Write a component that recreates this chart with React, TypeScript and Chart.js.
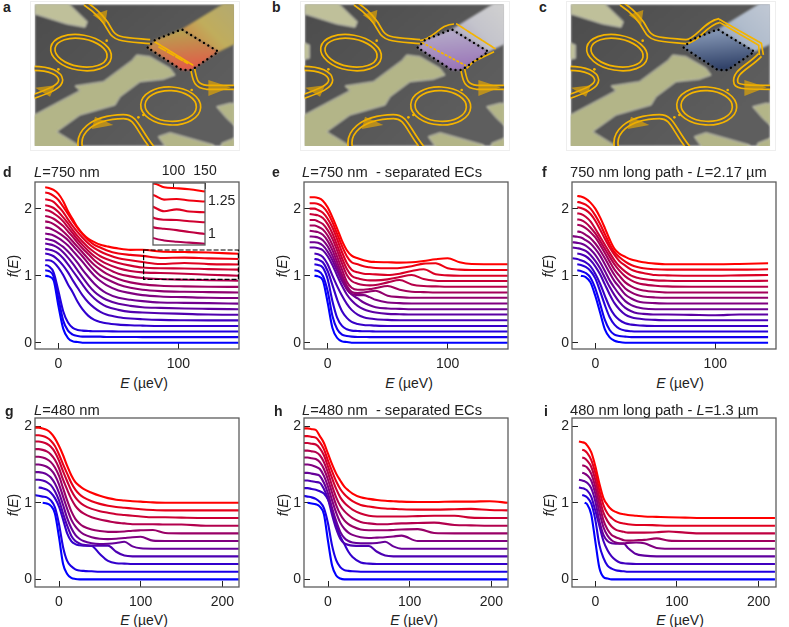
import { useEffect, useRef } from "react"
import { Chart, registerables } from "chart.js"

Chart.register(...registerables)

const FONT = "'Liberation Sans', Arial, sans-serif"

// panel d: L=750 nm
const dEnergy = [-11, -8, -4, 0, 4, 8, 12, 16, 20, 25, 30, 35, 40, 50, 60, 70, 85, 105, 125, 150]
const dCurves = [
  [1, 0.99, 0.93, 0.55, 0.21, 0.07, 0.02, 0.01, 0, 0, 0, 0, 0, 0, 0, 0, 0, 0, 0, 0],
  [1.08, 1.07, 0.99, 0.66, 0.33, 0.18, 0.12, 0.1, 0.09, 0.09, 0.09, 0.09, 0.085, 0.085, 0.085, 0.083, 0.083, 0.083, 0.083, 0.083],
  [1.16, 1.14, 1.05, 0.77, 0.47, 0.3, 0.22, 0.19, 0.18, 0.175, 0.17, 0.17, 0.17, 0.167, 0.167, 0.167, 0.167, 0.167, 0.167, 0.167],
  [1.23, 1.23, 1.2, 1.12, 1.01, 0.87, 0.75, 0.61, 0.5, 0.4, 0.34, 0.31, 0.29, 0.27, 0.26, 0.255, 0.25, 0.25, 0.25, 0.25],
  [1.33, 1.32, 1.29, 1.23, 1.15, 1.05, 0.93, 0.82, 0.71, 0.6, 0.52, 0.46, 0.42, 0.38, 0.36, 0.35, 0.34, 0.335, 0.333, 0.333],
  [1.4, 1.39, 1.37, 1.33, 1.26, 1.17, 1.07, 0.97, 0.87, 0.75, 0.66, 0.59, 0.54, 0.49, 0.46, 0.45, 0.44, 0.43, 0.42, 0.417],
  [1.48, 1.47, 1.45, 1.41, 1.35, 1.27, 1.18, 1.08, 0.98, 0.86, 0.76, 0.69, 0.64, 0.58, 0.55, 0.53, 0.52, 0.51, 0.505, 0.5],
  [1.55, 1.54, 1.52, 1.48, 1.43, 1.36, 1.28, 1.19, 1.09, 0.98, 0.88, 0.8, 0.74, 0.67, 0.64, 0.62, 0.6, 0.595, 0.59, 0.583],
  [1.63, 1.62, 1.6, 1.56, 1.51, 1.45, 1.37, 1.29, 1.21, 1.1, 1, 0.92, 0.86, 0.78, 0.74, 0.71, 0.69, 0.68, 0.67, 0.667],
  [1.72, 1.71, 1.68, 1.64, 1.59, 1.53, 1.45, 1.37, 1.29, 1.18, 1.08, 1, 0.95, 0.87, 0.82, 0.79, 0.77, 0.76, 0.755, 0.75],
  [1.81, 1.8, 1.77, 1.72, 1.66, 1.59, 1.51, 1.43, 1.35, 1.25, 1.16, 1.09, 1.03, 0.95, 0.9, 0.87, 0.85, 0.84, 0.835, 0.833],
  [1.89, 1.88, 1.85, 1.8, 1.74, 1.66, 1.58, 1.49, 1.41, 1.32, 1.23, 1.16, 1.11, 1.03, 0.99, 0.966, 0.95, 0.94, 0.933, 0.925],
  [1.98, 1.97, 1.93, 1.88, 1.81, 1.72, 1.63, 1.54, 1.46, 1.37, 1.29, 1.23, 1.18, 1.11, 1.07, 1.049, 1.04, 1.03, 1.015, 1],
  [2.05, 2.04, 2.01, 1.95, 1.87, 1.78, 1.68, 1.59, 1.51, 1.42, 1.35, 1.29, 1.25, 1.19, 1.15, 1.121, 1.11, 1.108, 1.098, 1.09],
  [2.14, 2.13, 2.1, 2.03, 1.95, 1.84, 1.74, 1.65, 1.57, 1.48, 1.41, 1.36, 1.32, 1.26, 1.23, 1.204, 1.175, 1.19, 1.173, 1.167],
  [2.24, 2.23, 2.19, 2.13, 2.03, 1.92, 1.81, 1.71, 1.62, 1.53, 1.46, 1.42, 1.38, 1.33, 1.31, 1.296, 1.265, 1.27, 1.258, 1.25],
  [2.32, 2.31, 2.28, 2.22, 2.11, 1.96, 1.84, 1.72, 1.63, 1.55, 1.5, 1.46, 1.44, 1.405, 1.385, 1.387, 1.36, 1.353, 1.345, 1.327],
]

// panel e: L=750 nm, separated ECs
const eEnergy = [-15, -11, -8, -4, 0, 4, 8, 12, 16, 20, 25, 30, 35, 40, 50, 60, 70, 80, 90, 100, 110, 120, 150]
const eCurves = [
  [null, 1, 0.99, 0.93, 0.6, 0.22, 0.07, 0.02, 0.01, 0, 0, 0, 0, 0, 0, 0, 0, 0, 0, 0, 0, 0, 0],
  [null, 1.08, 1.07, 1, 0.77, 0.4, 0.2, 0.12, 0.1, 0.09, 0.085, 0.085, 0.083, 0.083, 0.083, 0.083, 0.083, 0.083, 0.083, 0.083, 0.083, 0.083, 0.083],
  [null, 1.17, 1.16, 1.12, 0.95, 0.62, 0.37, 0.25, 0.2, 0.18, 0.175, 0.17, 0.17, 0.167, 0.167, 0.167, 0.167, 0.167, 0.167, 0.167, 0.167, 0.167, 0.167],
  [null, 1.25, 1.24, 1.2, 1.07, 0.86, 0.64, 0.47, 0.37, 0.31, 0.28, 0.265, 0.26, 0.255, 0.25, 0.25, 0.25, 0.25, 0.25, 0.25, 0.25, 0.25, 0.25],
  [null, 1.33, 1.32, 1.28, 1.17, 1, 0.84, 0.7, 0.58, 0.49, 0.42, 0.38, 0.36, 0.35, 0.34, 0.335, 0.335, 0.335, 0.335, 0.335, 0.335, 0.335, 0.335],
  [1.42, 1.42, 1.41, 1.38, 1.29, 1.16, 1, 0.85, 0.72, 0.63, 0.55, 0.5, 0.47, 0.45, 0.43, 0.425, 0.42, 0.42, 0.42, 0.42, 0.42, 0.42, 0.42],
  [1.5, 1.5, 1.49, 1.45, 1.36, 1.23, 1.07, 0.92, 0.8, 0.72, 0.66, 0.6, 0.56, 0.53, 0.51, 0.505, 0.5, 0.5, 0.5, 0.5, 0.5, 0.5, 0.5],
  [1.585, 1.58, 1.57, 1.53, 1.44, 1.3, 1.13, 0.96, 0.8, 0.73, 0.71, 0.71, 0.68, 0.64, 0.6, 0.59, 0.585, 0.585, 0.585, 0.585, 0.585, 0.585, 0.585],
  [1.67, 1.66, 1.65, 1.61, 1.52, 1.38, 1.2, 1.01, 0.85, 0.76, 0.74, 0.75, 0.765, 0.775, 0.7, 0.68, 0.67, 0.67, 0.67, 0.67, 0.67, 0.67, 0.67],
  [1.75, 1.75, 1.73, 1.69, 1.6, 1.46, 1.28, 1.09, 0.91, 0.82, 0.79, 0.79, 0.8, 0.815, 0.845, 0.79, 0.76, 0.755, 0.75, 0.75, 0.75, 0.75, 0.75],
  [1.83, 1.83, 1.81, 1.77, 1.68, 1.55, 1.37, 1.18, 1.01, 0.92, 0.88, 0.86, 0.855, 0.86, 0.9, 0.935, 0.87, 0.845, 0.84, 0.835, 0.835, 0.835, 0.835],
  [1.92, 1.91, 1.9, 1.86, 1.77, 1.63, 1.45, 1.26, 1.1, 1, 0.96, 0.94, 0.93, 0.93, 0.945, 0.98, 1.01, 0.95, 0.925, 0.92, 0.92, 0.92, 0.92],
  [2, 2, 1.98, 1.94, 1.85, 1.72, 1.54, 1.35, 1.19, 1.09, 1.05, 1.03, 1.025, 1.02, 1.01, 1.03, 1.07, 1.095, 1.02, 1.005, 1, 1, 1],
  [2.08, 2.08, 2.07, 2.03, 1.94, 1.8, 1.62, 1.44, 1.29, 1.2, 1.17, 1.14, 1.125, 1.115, 1.11, 1.115, 1.14, 1.18, 1.185, 1.11, 1.09, 1.085, 1.085],
  [2.17, 2.17, 2.16, 2.12, 2.02, 1.87, 1.7, 1.52, 1.38, 1.3, 1.26, 1.23, 1.21, 1.205, 1.2, 1.195, 1.2, 1.22, 1.245, 1.26, 1.2, 1.175, 1.17],
]

// panel f: 750 nm long path
const fEnergy = [-19, -15, -12, -8, -4, 0, 4, 8, 12, 16, 20, 25, 30, 35, 40, 50, 60, 80, 100, 120, 144]
const fCurves = [
  [null, null, 1, 0.98, 0.9, 0.7, 0.45, 0.2, 0.08, 0.03, 0.01, 0, 0, 0, 0, 0, 0, 0, 0, 0, 0],
  [null, 1.08, 1.07, 1.04, 0.97, 0.81, 0.58, 0.34, 0.19, 0.12, 0.1, 0.09, 0.083, 0.083, 0.083, 0.083, 0.083, 0.083, 0.083, 0.083, 0.083],
  [null, 1.17, 1.16, 1.13, 1.07, 0.96, 0.77, 0.56, 0.38, 0.27, 0.21, 0.18, 0.17, 0.167, 0.167, 0.167, 0.167, 0.167, 0.167, 0.167, 0.167],
  [1.26, 1.25, 1.23, 1.2, 1.14, 1.03, 0.88, 0.7, 0.53, 0.41, 0.34, 0.29, 0.27, 0.26, 0.255, 0.25, 0.25, 0.25, 0.25, 0.25, 0.25],
  [null, 1.33, 1.32, 1.29, 1.23, 1.14, 1.02, 0.87, 0.72, 0.59, 0.5, 0.42, 0.38, 0.36, 0.35, 0.34, 0.335, 0.335, 0.335, 0.335, 0.335],
  [1.42, 1.41, 1.4, 1.37, 1.31, 1.22, 1.11, 0.97, 0.83, 0.71, 0.61, 0.52, 0.47, 0.44, 0.43, 0.42, 0.42, 0.415, 0.41, 0.42, 0.42],
  [1.5, 1.49, 1.48, 1.45, 1.39, 1.31, 1.2, 1.07, 0.93, 0.82, 0.72, 0.62, 0.56, 0.53, 0.51, 0.5, 0.5, 0.5, 0.5, 0.5, 0.5],
  [1.59, 1.58, 1.57, 1.53, 1.48, 1.4, 1.3, 1.17, 1.04, 0.92, 0.83, 0.72, 0.66, 0.62, 0.6, 0.59, 0.585, 0.585, 0.585, 0.585, 0.585],
  [null, 1.66, 1.65, 1.61, 1.56, 1.48, 1.38, 1.26, 1.13, 1.01, 0.91, 0.81, 0.75, 0.71, 0.69, 0.675, 0.67, 0.67, 0.67, 0.67, 0.67],
  [null, 1.76, 1.75, 1.71, 1.65, 1.57, 1.46, 1.34, 1.21, 1.09, 1, 0.9, 0.84, 0.8, 0.78, 0.76, 0.75, 0.75, 0.75, 0.75, 0.75],
  [null, 1.84, 1.83, 1.79, 1.72, 1.63, 1.52, 1.4, 1.28, 1.17, 1.08, 0.99, 0.93, 0.89, 0.87, 0.85, 0.84, 0.835, 0.835, 0.835, 0.835],
  [null, 1.93, 1.92, 1.88, 1.81, 1.7, 1.58, 1.46, 1.34, 1.23, 1.14, 1.06, 1, 0.97, 0.95, 0.93, 0.925, 0.92, 0.92, 0.92, 0.925],
  [null, 2.02, 2.01, 1.98, 1.92, 1.82, 1.69, 1.55, 1.42, 1.31, 1.22, 1.15, 1.09, 1.06, 1.04, 1.01, 1.005, 1, 1, 1.005, 1.01],
  [null, 2.1, 2.09, 2.06, 2, 1.9, 1.77, 1.62, 1.47, 1.35, 1.28, 1.21, 1.16, 1.13, 1.11, 1.095, 1.09, 1.09, 1.09, 1.09, 1.095],
  [null, 2.19, 2.18, 2.15, 2.09, 2, 1.87, 1.71, 1.54, 1.4, 1.33, 1.28, 1.24, 1.22, 1.2, 1.18, 1.17, 1.17, 1.17, 1.175, 1.185],
]

// panel g: L=480 nm
const gEnergy = [-30, -25, -20, -15, -10, -5, 0, 5, 10, 15, 20, 25, 30, 40, 50, 60, 70, 80, 90, 100, 115, 130, 150, 180, 220]
const gCurves = [
  [null, null, 1, 0.99, 0.96, 0.86, 0.55, 0.2, 0.07, 0.02, 0.005, 0, 0, 0, 0, 0, 0, 0, 0, 0, 0, 0, 0, 0, 0],
  [1.1, 1.09, 1.08, 1.07, 1.03, 0.94, 0.72, 0.42, 0.24, 0.17, 0.13, 0.115, 0.11, 0.105, 0.1, 0.1, 0.1, 0.1, 0.1, 0.1, 0.1, 0.1, 0.1, 0.1, 0.1],
  [null, 1.2, 1.19, 1.17, 1.13, 1.06, 0.95, 0.78, 0.6, 0.5, 0.46, 0.445, 0.44, 0.435, 0.33, 0.24, 0.21, 0.205, 0.2, 0.2, 0.2, 0.2, 0.2, 0.2, 0.2],
  [1.3, 1.3, 1.29, 1.27, 1.23, 1.15, 1.03, 0.86, 0.7, 0.57, 0.5, 0.47, 0.45, 0.44, 0.44, 0.44, 0.36, 0.31, 0.3, 0.3, 0.3, 0.3, 0.3, 0.3, 0.3],
  [1.4, 1.4, 1.39, 1.37, 1.33, 1.25, 1.13, 0.97, 0.8, 0.67, 0.58, 0.53, 0.5, 0.47, 0.46, 0.465, 0.475, 0.49, 0.43, 0.405, 0.4, 0.4, 0.4, 0.4, 0.4],
  [1.5, 1.5, 1.49, 1.47, 1.43, 1.36, 1.24, 1.08, 0.92, 0.78, 0.69, 0.63, 0.59, 0.55, 0.53, 0.525, 0.53, 0.54, 0.55, 0.555, 0.505, 0.5, 0.5, 0.5, 0.5],
  [1.6, 1.6, 1.59, 1.57, 1.53, 1.46, 1.35, 1.19, 1.03, 0.89, 0.79, 0.73, 0.69, 0.65, 0.63, 0.62, 0.62, 0.625, 0.635, 0.64, 0.645, 0.605, 0.6, 0.6, 0.6],
  [1.7, 1.7, 1.69, 1.67, 1.63, 1.56, 1.45, 1.3, 1.17, 1.05, 0.96, 0.9, 0.86, 0.81, 0.78, 0.76, 0.74, 0.73, 0.72, 0.72, 0.72, 0.715, 0.715, 0.7, 0.7],
  [1.8, 1.8, 1.79, 1.77, 1.73, 1.66, 1.55, 1.41, 1.28, 1.16, 1.07, 1.01, 0.97, 0.92, 0.89, 0.87, 0.85, 0.84, 0.83, 0.82, 0.81, 0.81, 0.805, 0.8, 0.8],
  [1.88, 1.88, 1.87, 1.85, 1.81, 1.74, 1.63, 1.5, 1.38, 1.26, 1.17, 1.11, 1.07, 1.02, 0.985, 0.96, 0.945, 0.935, 0.925, 0.915, 0.905, 0.9, 0.9, 0.9, 0.9],
  [1.98, 1.98, 1.97, 1.95, 1.91, 1.84, 1.74, 1.62, 1.48, 1.36, 1.27, 1.22, 1.18, 1.13, 1.09, 1.06, 1.04, 1.03, 1.02, 1.015, 1.005, 1, 1, 1, 1],
]

// panel h: L=480 nm, separated ECs
const hEnergy = [-30, -25, -20, -15, -10, -5, 0, 5, 10, 15, 20, 25, 30, 40, 50, 60, 70, 80, 90, 110, 130, 155, 175, 198, 220]
const hCurves = [
  [null, 1, 0.99, 0.98, 0.95, 0.85, 0.5, 0.18, 0.05, 0.01, 0, 0, 0, 0, 0, 0, 0, 0, 0, 0, 0, 0, 0, 0, 0],
  [1.09, 1.08, 1.07, 1.05, 1.01, 0.93, 0.73, 0.44, 0.25, 0.16, 0.12, 0.11, 0.105, 0.1, 0.1, 0.1, 0.1, 0.1, 0.1, 0.1, 0.1, 0.1, 0.1, 0.1, 0.1],
  [1.19, 1.19, 1.18, 1.17, 1.15, 1.12, 1.04, 0.9, 0.72, 0.56, 0.46, 0.36, 0.29, 0.22, 0.205, 0.2, 0.2, 0.2, 0.2, 0.2, 0.2, 0.2, 0.2, 0.2, 0.2],
  [1.29, 1.29, 1.28, 1.27, 1.26, 1.18, 1.05, 0.84, 0.66, 0.53, 0.47, 0.45, 0.44, 0.435, 0.435, 0.36, 0.31, 0.3, 0.3, 0.3, 0.3, 0.3, 0.3, 0.3, 0.3],
  [1.39, 1.39, 1.38, 1.37, 1.35, 1.26, 1.12, 0.93, 0.76, 0.62, 0.54, 0.5, 0.48, 0.47, 0.47, 0.475, 0.49, 0.43, 0.4, 0.4, 0.4, 0.4, 0.4, 0.4, 0.4],
  [1.5, 1.5, 1.49, 1.47, 1.44, 1.35, 1.21, 1.03, 0.87, 0.74, 0.66, 0.61, 0.58, 0.55, 0.54, 0.545, 0.55, 0.56, 0.57, 0.5, 0.5, 0.5, 0.5, 0.5, 0.5],
  [1.59, 1.59, 1.58, 1.57, 1.53, 1.44, 1.3, 1.13, 0.97, 0.85, 0.77, 0.72, 0.69, 0.65, 0.64, 0.64, 0.64, 0.645, 0.65, 0.655, 0.605, 0.6, 0.6, 0.6, 0.6],
  [1.68, 1.68, 1.67, 1.66, 1.62, 1.53, 1.39, 1.22, 1.07, 0.96, 0.89, 0.84, 0.8, 0.75, 0.73, 0.72, 0.72, 0.725, 0.73, 0.735, 0.74, 0.71, 0.705, 0.7, 0.7],
  [1.78, 1.78, 1.77, 1.76, 1.71, 1.62, 1.47, 1.32, 1.18, 1.07, 1, 0.95, 0.91, 0.86, 0.83, 0.82, 0.82, 0.82, 0.82, 0.825, 0.83, 0.83, 0.805, 0.8, 0.8],
  [1.87, 1.87, 1.86, 1.85, 1.79, 1.7, 1.55, 1.41, 1.28, 1.18, 1.11, 1.06, 1.02, 0.97, 0.95, 0.935, 0.925, 0.92, 0.915, 0.91, 0.91, 0.915, 0.92, 0.905, 0.9],
  [1.97, 1.97, 1.96, 1.95, 1.87, 1.78, 1.64, 1.5, 1.38, 1.29, 1.21, 1.16, 1.12, 1.07, 1.05, 1.035, 1.025, 1.02, 1.015, 1.01, 1.01, 1.015, 1.015, 1.02, 1],
]

// panel i: 480 nm long path
const iEnergy = [-20, -16, -13, -10, -5, 0, 5, 10, 15, 20, 25, 30, 35, 40, 50, 60, 75, 90, 110, 130, 160, 220]
const iCurves = [
  [null, null, 1, 0.98, 0.85, 0.5, 0.15, 0.03, 0.01, 0, 0, 0, 0, 0, 0, 0, 0, 0, 0, 0, 0, 0],
  [null, 1.1, 1.09, 1.07, 0.99, 0.78, 0.45, 0.28, 0.18, 0.14, 0.12, 0.11, 0.105, 0.1, 0.1, 0.1, 0.1, 0.1, 0.1, 0.1, 0.1, 0.1],
  [1.2, 1.19, 1.18, 1.16, 1.08, 0.9, 0.7, 0.5, 0.38, 0.3, 0.25, 0.22, 0.21, 0.205, 0.2, 0.2, 0.2, 0.2, 0.2, 0.2, 0.2, 0.2],
  [1.3, 1.29, 1.28, 1.26, 1.19, 1.02, 0.76, 0.58, 0.5, 0.47, 0.465, 0.465, 0.465, 0.41, 0.33, 0.31, 0.3, 0.3, 0.3, 0.3, 0.3, 0.3],
  [null, 1.39, 1.38, 1.36, 1.29, 1.12, 0.88, 0.68, 0.57, 0.51, 0.48, 0.47, 0.47, 0.475, 0.48, 0.47, 0.41, 0.4, 0.4, 0.4, 0.4, 0.4],
  [null, 1.49, 1.48, 1.46, 1.38, 1.21, 0.98, 0.77, 0.65, 0.58, 0.55, 0.53, 0.51, 0.505, 0.51, 0.515, 0.535, 0.505, 0.5, 0.5, 0.5, 0.5],
  [null, 1.59, 1.58, 1.55, 1.47, 1.3, 1.07, 0.87, 0.76, 0.69, 0.65, 0.63, 0.62, 0.61, 0.61, 0.61, 0.615, 0.625, 0.61, 0.6, 0.6, 0.6],
  [null, 1.69, 1.68, 1.65, 1.56, 1.39, 1.16, 0.97, 0.86, 0.8, 0.76, 0.74, 0.73, 0.72, 0.71, 0.71, 0.705, 0.7, 0.7, 0.7, 0.7, 0.7],
  [1.8, 1.79, 1.78, 1.75, 1.66, 1.48, 1.25, 1.06, 0.97, 0.91, 0.88, 0.86, 0.85, 0.84, 0.83, 0.82, 0.815, 0.81, 0.805, 0.8, 0.8, 0.8],
]

const upperYTicks = [0, 1, 2]
const narrowXTicks = [0, 100]
const wideXTicks = [0, 100, 200]
const insetXTicks = [100, 150]
const insetYTicks = [1, 1.25]
const insetCurveCount = 6

const curveColor = (k: number, n: number) => {
  const t = k / (n - 1)
  return `rgb(${Math.round(255 * t)},0,${Math.round(255 * (1 - t))})`
}

const buildDatasets = (energy: number[], curves: (number | null)[][], first = 0, total = curves.length) =>
  curves.map((row, k) => ({
    data: row.map((y, i) => ({ x: energy[i], y })),
    borderColor: curveColor(k + first, total),
    borderWidth: 2.1,
    pointRadius: 0,
    cubicInterpolationMode: "monotone" as const,
    order: curves.length - k,
  }))

const framePlugin = {
  id: "frame",
  afterDraw(chart: any) {
    const { ctx, chartArea: a } = chart
    ctx.save()
    ctx.strokeStyle = "#5c5c5c"
    ctx.lineWidth = 1.3
    ctx.strokeRect(a.left, a.top, a.right - a.left, a.bottom - a.top)
    ctx.restore()
  },
}

// the dashed box in panel d marks the range shown in the inset
const zoomBoxE = [71, 150]
const zoomBoxF = [0.945, 1.383]
const zoomBoxPlugin = {
  id: "zoomBox",
  afterDraw(chart: any) {
    const { ctx, scales } = chart
    const x0 = scales.x.getPixelForValue(zoomBoxE[0])
    const x1 = scales.x.getPixelForValue(zoomBoxE[1])
    const y0 = scales.y.getPixelForValue(zoomBoxF[1])
    const y1 = scales.y.getPixelForValue(zoomBoxF[0])
    ctx.save()
    ctx.strokeStyle = "#000"
    ctx.lineWidth = 1.2
    ctx.setLineDash([5, 2])
    ctx.strokeRect(x0, y0, x1 - x0, y1 - y0)
    ctx.restore()
  },
}

const whiteBackPlugin = {
  id: "whiteBack",
  beforeDraw(chart: any) {
    const { ctx, chartArea: a } = chart
    ctx.save()
    ctx.fillStyle = "#fff"
    ctx.fillRect(a.left, a.top, a.right - a.left, a.bottom - a.top)
    ctx.restore()
  },
}

function axis(min: number, max: number, ticks: number[], size: number, tickPadding: number, extra: any = {}) {
  return {
    type: "linear" as const,
    min,
    max,
    afterBuildTicks(scale: any) {
      scale.ticks = ticks.map((value) => ({ value }))
    },
    afterFit(scale: any) {
      if (scale.isHorizontal()) scale.height = size
      else scale.width = size
      // keep the plot box where the layout puts it, labels may overhang
      scale.paddingLeft = 0
      scale.paddingRight = 0
      scale.paddingTop = 0
      scale.paddingBottom = 0
    },
    border: { display: false },
    grid: { drawOnChartArea: false, tickLength: -6, tickColor: "#222", tickWidth: 1 },
    ticks: {
      autoSkip: false,
      maxRotation: 0,
      padding: tickPadding,
      color: "#222",
      font: { family: FONT, size: 14 },
      callback: (v: any) => String(v),
    },
    ...extra,
  }
}

interface PanelProps {
  left: number
  top: number
  width: number
  height: number
  energy: number[]
  curves: (number | null)[][]
  xRange: number[]
  yRange: number[]
  xTicks: number[]
  zoomBox?: boolean
}

function CurvePanel({ left, top, width, height, energy, curves, xRange, yRange, xTicks, zoomBox }: PanelProps) {
  const ref = useRef<HTMLCanvasElement>(null)

  useEffect(() => {
    if (!ref.current) return
    const chart = new Chart(ref.current, {
      type: "line",
      data: { datasets: buildDatasets(energy, curves) as any },
      options: {
        animation: false,
        responsive: false,
        devicePixelRatio: 1,
        layout: { padding: { top: 8, right: 12, left: 0, bottom: 0 } },
        plugins: { legend: { display: false }, tooltip: { enabled: false } },
        scales: {
          x: axis(xRange[0], xRange[1], xTicks, 24, 13),
          y: axis(yRange[0], yRange[1], upperYTicks, 30, 9),
        } as any,
      },
      plugins: zoomBox ? [framePlugin, zoomBoxPlugin] : [framePlugin],
    })
    return () => chart.destroy()
  }, [])

  return (
    <canvas
      ref={ref}
      width={width + 42}
      height={height + 32}
      style={{ position: "absolute", left: left - 30, top: top - 8 }}
    />
  )
}

function InsetPanel() {
  const ref = useRef<HTMLCanvasElement>(null)

  useEffect(() => {
    if (!ref.current) return
    const topCurves = dCurves.slice(-insetCurveCount)
    const chart = new Chart(ref.current, {
      type: "line",
      data: { datasets: buildDatasets(dEnergy, topCurves, dCurves.length - insetCurveCount, dCurves.length) as any },
      options: {
        animation: false,
        responsive: false,
        devicePixelRatio: 1,
        layout: { padding: { left: 13, bottom: 5, top: 0, right: 0 } },
        plugins: { legend: { display: false }, tooltip: { enabled: false } },
        scales: {
          x: axis(67.5, 150, insetXTicks, 20, 9, { position: "top" }),
          y: axis(0.915, 1.393, insetYTicks, 35, 9, { position: "right" }),
        } as any,
      },
      plugins: [whiteBackPlugin, framePlugin],
    })
    return () => chart.destroy()
  }, [])

  return <canvas ref={ref} width={100} height={87} style={{ position: "absolute", left: 140, top: 163 }} />
}

// ---- device photographs above the plots ----

const YELLOW = "#f4b400"
type Variant = "a" | "b" | "c"

const leadColors: Record<Variant, string[]> = {
  a: ["#c0ad5c", "#cf8044", "#b4aa70"],
  b: ["#c4c4cc", "#a8a0bc", "#d0d0d0"],
  c: ["#b0bccc", "#8c9cb8", "#c0c8d4"],
}
const diamondColors: Record<Variant, string[]> = {
  a: ["#b8a050", "#e25a48"],
  b: ["#b4aac8", "#9a74b8"],
  c: ["#8496b4", "#2e3f66"],
}

function poly(ctx: CanvasRenderingContext2D, pts: number[][]) {
  ctx.beginPath()
  pts.forEach(([x, y], i) => (i ? ctx.lineTo(x, y) : ctx.moveTo(x, y)))
  ctx.closePath()
}

function metal(ctx: CanvasRenderingContext2D, pts: number[][], fill = "#b3b588") {
  poly(ctx, pts)
  ctx.fillStyle = fill
  ctx.fill()
  ctx.strokeStyle = "rgba(232,232,220,0.75)"
  ctx.lineWidth = 3
  ctx.stroke()
}

function doublePath(ctx: CanvasRenderingContext2D, draw: () => void) {
  ctx.lineJoin = "round"
  ctx.strokeStyle = YELLOW
  ctx.lineWidth = 17
  ctx.beginPath()
  draw()
  ctx.stroke()
  ctx.strokeStyle = "#565656"
  ctx.lineWidth = 7
  ctx.beginPath()
  draw()
  ctx.stroke()
}

function ring(ctx: CanvasRenderingContext2D, cx: number, cy: number, rx: number, ry: number, rot: number) {
  ctx.strokeStyle = YELLOW
  ctx.lineWidth = 5
  ctx.beginPath()
  ctx.ellipse(cx, cy, rx, ry, rot, 0, Math.PI * 2)
  ctx.stroke()
  ctx.beginPath()
  ctx.ellipse(cx, cy, rx - 13, ry - 11, rot, 0, Math.PI * 2)
  ctx.stroke()
}

function drawDevice(ctx: CanvasRenderingContext2D, variant: Variant) {
  ctx.save()
  ctx.strokeStyle = "#eeeeee"
  ctx.lineWidth = 1
  ctx.strokeRect(0.5, 0.5, 209, 149)
  // coordinates below are in a 3x grid of the photograph
  ctx.translate(4.7, 3.3)
  ctx.scale(1 / 3, 1 / 3)
  ctx.translate(-104, -13)
  ctx.beginPath()
  ctx.rect(104, 13, 598, 425)
  ctx.clip()

  ctx.filter = "blur(0.9px)"
  const bg = ctx.createLinearGradient(104, 13, 500, 438)
  bg.addColorStop(0, "#4c4c4c")
  bg.addColorStop(1, "#5e5e5e")
  ctx.fillStyle = bg
  ctx.fillRect(104, 13, 598, 425)

  // fingers and gate
  metal(ctx, [[104, 10], [205, 10], [262, 65], [255, 82], [200, 72], [104, 42]], "#bfc09a")
  metal(ctx, [[650, 320], [690, 310], [705, 312], [705, 378], [680, 355]])
  metal(ctx, [[475, 410], [510, 398], [640, 435], [640, 445], [500, 445]])
  metal(ctx, [[665, 430], [705, 414], [705, 445], [665, 445]])
  if (variant !== "a") metal(ctx, [[90, 125], [118, 135], [118, 175], [90, 180]], "#bfc09a")
  metal(ctx, [
    [90, 352], [240, 272], [225, 258], [310, 245], [395, 182], [410, 165], [450, 170], [510, 205], [525, 225],
    [490, 238], [420, 245], [360, 290], [345, 315], [240, 345], [170, 395], [250, 445], [90, 445],
  ])

  // lead and the coloured diamond
  const [leadTop, leadLow, leadFar] = leadColors[variant]
  const lead = ctx.createLinearGradient(700, 20, 560, 160)
  lead.addColorStop(0, leadFar)
  lead.addColorStop(0.5, leadTop)
  lead.addColorStop(1, leadLow)
  poly(ctx, [[545, 88], [672, 10], [705, 10], [705, 132], [655, 156]])
  ctx.fillStyle = lead
  ctx.fill()
  const diamondPts = [[443, 143], [465, 120], [545, 88], [655, 155], [575, 210], [545, 210], [530, 200]]
  const dia = ctx.createLinearGradient(530, 95, 540, 210)
  dia.addColorStop(0, diamondColors[variant][0])
  dia.addColorStop(1, diamondColors[variant][1])
  poly(ctx, diamondPts)
  ctx.fillStyle = dia
  ctx.fill()

  // edge channels
  ctx.filter = "blur(0.3px)"
  ring(ctx, 243, 158, 92, 53, 0.17)
  ring(ctx, 512, 318, 90, 57, 0.05)
  doublePath(ctx, () => {
    ctx.moveTo(255, 10)
    ctx.bezierCurveTo(300, 40, 320, 70, 330, 90)
    ctx.bezierCurveTo(345, 120, 370, 118, 450, 125)
    if (variant === "c") {
      ctx.bezierCurveTo(480, 125, 510, 68, 550, 62)
    }
  })
  doublePath(ctx, () => {
    if (variant === "c") {
      ctx.moveTo(672, 165)
      ctx.bezierCurveTo(640, 200, 590, 215, 600, 250)
      ctx.bezierCurveTo(605, 262, 640, 262, 705, 262)
    } else {
      ctx.moveTo(578, 208)
      ctx.bezierCurveTo(585, 240, 585, 258, 620, 262)
      ctx.lineTo(705, 262)
    }
  })
  doublePath(ctx, () => {
    ctx.moveTo(100, 205)
    ctx.bezierCurveTo(150, 205, 180, 220, 182, 240)
    ctx.bezierCurveTo(182, 262, 140, 275, 100, 290)
  })
  doublePath(ctx, () => {
    ctx.moveTo(242, 445)
    ctx.bezierCurveTo(230, 400, 270, 352, 370, 350)
    ctx.bezierCurveTo(410, 350, 410, 385, 458, 445)
  })

  ctx.strokeStyle = YELLOW
  ctx.lineWidth = 5
  if (variant === "a") {
    ctx.setLineDash([22, 7])
    poly(ctx, [[465, 126], [578, 195]])
    ctx.stroke()
    poly(ctx, [[475, 140], [562, 190]])
    ctx.stroke()
  } else if (variant === "b") {
    ctx.beginPath()
    ctx.moveTo(450, 122)
    ctx.bezierCurveTo(490, 118, 510, 72, 552, 72)
    ctx.stroke()
    ctx.beginPath()
    ctx.moveTo(672, 155)
    ctx.lineTo(610, 185)
    ctx.lineTo(590, 205)
    ctx.stroke()
    ctx.setLineDash([8, 5])
    poly(ctx, [[560, 72], [675, 146]])
    ctx.stroke()
    poly(ctx, [[456, 128], [586, 196]])
    ctx.stroke()
  } else {
    ctx.setLineDash([26, 6])
    poly(ctx, [[550, 58], [676, 130]])
    ctx.stroke()
    poly(ctx, [[552, 68], [668, 136]])
    ctx.stroke()
    ctx.setLineDash([])
    ctx.beginPath()
    ctx.moveTo(676, 130)
    ctx.lineTo(682, 165)
    ctx.moveTo(668, 136)
    ctx.lineTo(670, 165)
    ctx.stroke()
  }
  ctx.setLineDash([])

  // contact dots
  ctx.fillStyle = YELLOW
  const dots = [[320, 122], [175, 208], [575, 270], [430, 345], [415, 352]]
  dots.forEach(([x, y]) => {
    ctx.beginPath()
    ctx.arc(x, y, 4, 0, Math.PI * 2)
    ctx.fill()
  })

  // arrows
  ctx.fillStyle = "rgba(235,170,0,0.65)"
  const arrows = [
    [[278, 45], [322, 30], [316, 72]],
    [[105, 263], [165, 256], [150, 290]],
    [[285, 350], [340, 375], [275, 387]],
    [[625, 240], [692, 262], [625, 288]],
  ]
  arrows.forEach((a) => {
    poly(ctx, a)
    ctx.fill()
  })

  // dotted outline of the diamond
  ctx.filter = "none"
  poly(ctx, diamondPts)
  ctx.strokeStyle = "#000"
  ctx.lineWidth = 7
  ctx.lineCap = "round"
  ctx.setLineDash([0.1, 15])
  ctx.stroke()
  ctx.restore()
}

function DevicePhoto({ left, variant }: { left: number; variant: Variant }) {
  const ref = useRef<HTMLCanvasElement>(null)

  useEffect(() => {
    if (!ref.current) return
    const chart = new Chart(ref.current, {
      type: "line",
      data: { datasets: [] },
      options: {
        animation: false,
        responsive: false,
        devicePixelRatio: 1,
        plugins: { legend: { display: false }, tooltip: { enabled: false } },
        scales: { x: { display: false }, y: { display: false } },
      },
      plugins: [{ id: "device", beforeDraw: (c: any) => drawDevice(c.ctx, variant) }],
    })
    return () => chart.destroy()
  }, [])

  return <canvas ref={ref} width={210} height={150} style={{ position: "absolute", left, top: 1 }} />
}

// ---- text ----

function Label({ x, y, children, center, bold, rotate, size = 14 }: any) {
  return (
    <div
      style={{
        position: "absolute",
        left: x,
        top: y,
        transform: `translateY(-50%)${center ? " translateX(-50%)" : ""}${rotate ? " rotate(-90deg)" : ""}`,
        font: `${bold ? "bold " : ""}${size}px ${FONT}`,
        lineHeight: "16px",
        color: "#222",
        whiteSpace: "pre",
      }}
    >
      {children}
    </div>
  )
}

const xTitle = (
  <>
    <i>E</i> (µeV)
  </>
)
const yTitle = (
  <>
    <i>f</i>(<i>E</i>)
  </>
)

const ROW1 = { top: 182, height: 167, y: [-0.094, 2.398] }
const ROW2 = { top: 418, height: 169, y: [-0.1, 2.106] }
const TITLE_SIZE = 14.7

export default function App() {
  return (
    <div style={{ position: "absolute", left: 0, top: 0, width: 789, height: 627, overflow: "hidden", background: "#fff" }}>
      <DevicePhoto left={30} variant="a" />
      <DevicePhoto left={299.6} variant="b" />
      <DevicePhoto left={566.3} variant="c" />

      <CurvePanel left={35} top={ROW1.top} width={204} height={ROW1.height} energy={dEnergy} curves={dCurves} xRange={[-19.5, 150.5]} yRange={ROW1.y} xTicks={narrowXTicks} zoomBox />
      <InsetPanel />
      <CurvePanel left={304} top={ROW1.top} width={204} height={ROW1.height} energy={eEnergy} curves={eCurves} xRange={[-19.7, 150.3]} yRange={ROW1.y} xTicks={narrowXTicks} />
      <CurvePanel left={572} top={ROW1.top} width={204} height={ROW1.height} energy={fEnergy} curves={fCurves} xRange={[-19.4, 150.6]} yRange={ROW1.y} xTicks={narrowXTicks} />
      <CurvePanel left={35} top={ROW2.top} width={204} height={ROW2.height} energy={gEnergy} curves={gCurves} xRange={[-29.4, 220.4]} yRange={ROW2.y} xTicks={wideXTicks} />
      <CurvePanel left={304} top={ROW2.top} width={204} height={ROW2.height} energy={hEnergy} curves={hCurves} xRange={[-29.4, 220.4]} yRange={ROW2.y} xTicks={wideXTicks} />
      <CurvePanel left={572} top={ROW2.top} width={204} height={ROW2.height} energy={iEnergy} curves={iCurves} xRange={[-28.5, 221.3]} yRange={ROW2.y} xTicks={wideXTicks} />

      <Label x={3} y={7} bold>a</Label>
      <Label x={272} y={7} bold>b</Label>
      <Label x={539} y={7} bold>c</Label>
      <Label x={3} y={172} bold>d</Label>
      <Label x={272} y={172} bold>e</Label>
      <Label x={542} y={172} bold>f</Label>
      <Label x={5} y={411} bold>g</Label>
      <Label x={274} y={411} bold>h</Label>
      <Label x={544} y={411} bold>i</Label>

      <Label x={34} y={172} size={TITLE_SIZE}><i>L</i>=750 nm</Label>
      <Label x={302} y={172} size={TITLE_SIZE}><i>L</i>=750 nm  - separated ECs</Label>
      <Label x={570} y={172} size={TITLE_SIZE}>750 nm long path - <i>L</i>=2.17 µm</Label>
      <Label x={34} y={410} size={TITLE_SIZE}><i>L</i>=480 nm</Label>
      <Label x={302} y={410} size={TITLE_SIZE}><i>L</i>=480 nm  - separated ECs</Label>
      <Label x={570} y={410} size={TITLE_SIZE}>480 nm long path - <i>L</i>=1.3 µm</Label>

      <Label x={144} y={383} center>{xTitle}</Label>
      <Label x={409} y={383} center>{xTitle}</Label>
      <Label x={680} y={383} center>{xTitle}</Label>
      <Label x={144} y={620} center>{xTitle}</Label>
      <Label x={414} y={620} center>{xTitle}</Label>
      <Label x={680} y={620} center>{xTitle}</Label>

      <Label x={13} y={266} center rotate>{yTitle}</Label>
      <Label x={282} y={266} center rotate>{yTitle}</Label>
      <Label x={548} y={266} center rotate>{yTitle}</Label>
      <Label x={13} y={505} center rotate>{yTitle}</Label>
      <Label x={283} y={505} center rotate>{yTitle}</Label>
      <Label x={549} y={505} center rotate>{yTitle}</Label>
    </div>
  )
}
